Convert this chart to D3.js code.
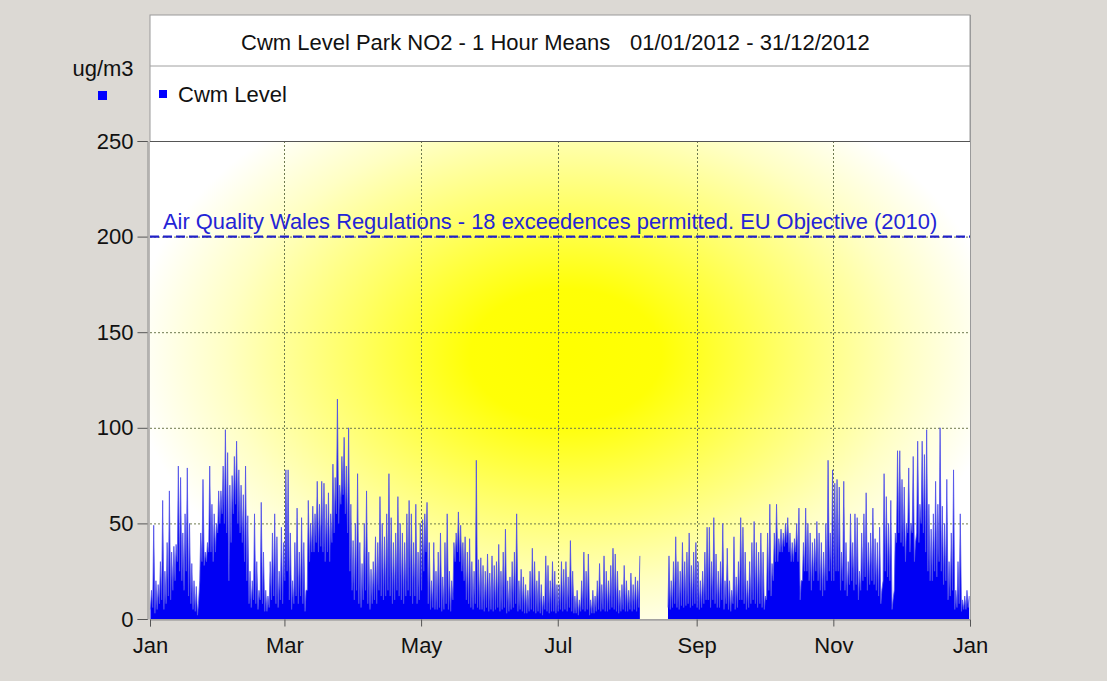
<!DOCTYPE html>
<html>
<head>
<meta charset="utf-8">
<script src="https://cdn.jsdelivr.net/npm/d3@7"></script>
<style>
  html, body { margin: 0; padding: 0; background: #dcd9d4; }
  svg { display: block; font-family: "Liberation Sans", Arial, sans-serif; }
</style>
</head>
<body>
<svg id="chart" width="1107" height="681"></svg>
<script>
// daily peak / daily base NO2 (ug/m3)
const janMax = [15,49,20,18,30,62,25,40,67,35,38,39,80,74,45,55,79,50,29,20,17,8,45,73,35,40,80,60,55,50,67];
const janMin = [5,6,3,5,8,10,5,8,12,10,15,20,30,25,20,15,25,12,8,5,4,2,20,30,28,30,35,35,30,35,45];
const febMax = [67,80,99,87,70,75,85,93,78,70,65,80,54,25,20,55,30,15,61,35,15,12,30,45,55,43,25,48,40];
const febMin = [50,55,50,45,20,40,55,60,50,45,40,30,20,8,6,10,8,5,10,8,4,4,6,10,12,8,6,10,8];
const marMax = [78,78,45,20,40,58,35,53,40,15,62,50,59,55,72,60,72,71,60,66,55,81,74,115,70,85,95,80,100,60,41];
const marMin = [20,25,10,5,8,12,8,12,8,4,15,30,35,35,40,35,38,35,30,35,30,40,45,55,50,60,65,55,45,25,15];
const aprMax = [50,76,40,29,50,67,35,26,30,43,40,64,50,43,55,76,53,40,45,64,50,45,40,55,62,55,40,60,35,50];
const aprMin = [10,15,8,6,10,15,8,5,8,10,8,15,12,10,12,15,12,8,10,15,12,10,8,12,15,12,8,12,8,10];
const mayMax = [52,55,61,40,20,40,25,35,45,22,40,55,25,20,40,45,56,49,40,43,35,42,30,25,83,31,32,28,25,34,24];
const mayMin = [15,25,35,8,5,6,5,5,6,4,5,8,5,4,10,30,35,30,25,20,10,8,6,5,8,6,5,5,4,6,4];
const junMax = [33,28,30,39,25,35,47,20,22,30,35,55,20,26,22,18,15,25,37,30,20,25,18,12,33,28,20,30,25,18];
const junMin = [5,4,5,6,4,5,6,3,4,5,6,8,4,5,4,3,3,4,5,4,3,4,3,2,5,4,3,4,4,3];
const julMax = [18,30,26,30,22,41,25,12,15,10,20,35,25,34,10,15,12,20,29,18,33,25,20,28,37,34,25,15,18,28,20];
const julMin = [4,5,4,5,4,6,4,3,3,2,4,5,4,5,2,3,3,4,5,4,5,4,4,5,6,5,4,3,4,5,4];
const augMax = [15,24,18,22,20,33,null,null,null,null,null,null,null,null,null,null,null,null,33,20,30,43,30,25,40,30,35,45,28,35,40];
const augMin = [4,5,4,5,4,6,null,null,null,null,null,null,null,null,null,null,null,null,6,5,6,8,6,5,7,6,7,8,6,7,8];
const sepMax = [30,20,25,35,48,48,30,53,34,25,30,50,20,37,20,15,43,22,30,53,48,35,20,30,40,51,40,35,45,35];
const sepMin = [6,5,6,8,10,10,6,10,8,6,6,10,5,8,5,4,8,5,6,10,10,8,5,6,8,10,8,6,8,6];
const octMax = [12,45,60,29,45,60,42,47,45,50,53,45,40,42,50,58,20,40,58,50,45,40,42,51,45,40,35,50,83,45,78];
const octMin = [5,10,15,12,20,30,30,35,35,38,40,35,30,30,35,30,10,20,25,25,20,15,20,25,20,15,12,15,20,25,20];
const novMax = [71,73,69,35,72,40,30,55,40,55,53,25,45,55,66,40,45,58,42,40,48,15,76,64,50,62,10,45,88,88];
const novMin = [20,25,25,15,20,15,12,18,20,15,18,10,15,20,22,15,18,20,18,15,12,8,20,25,22,20,5,15,40,45];
const decMax = [73,69,50,79,50,85,40,93,60,93,86,99,60,47,55,72,60,100,59,50,73,30,45,78,15,30,55,10,12,15,12];
const decMin = [40,38,30,45,35,45,30,45,40,50,45,35,25,20,20,25,22,30,25,18,20,10,12,15,5,6,8,4,5,5,6];

const yTicks = [0, 50, 100, 150, 200, 250];
const limitValue = 200;
const limitLabel = 'Air Quality Wales Regulations - 18 exceedences permitted. EU Objective (2010)';
const titleMain = 'Cwm Level Park NO2 - 1 Hour Means';
const titleDates = '01/01/2012 - 31/12/2012';
const seriesName = 'Cwm Level';
const unitLabel = 'ug/m3';

const dayMax = [].concat(janMax, febMax, marMax, aprMax, mayMax, junMax, julMax, augMax, sepMax, octMax, novMax, decMax);
const dayMin = [].concat(janMin, febMin, marMin, aprMin, mayMin, junMin, julMin, augMin, sepMin, octMin, novMin, decMin);

const start = Date.UTC(2012, 0, 1);
const DAY = 86400000;

// each day drawn as a trough then a peak
const points = [];
dayMax.forEach((m, i) => {
  points.push({ t: new Date(start + (i + 0.2) * DAY), v: dayMin[i] });
  points.push({ t: new Date(start + (i + 0.65) * DAY), v: m });
});

const margin = { left: 150, right: 137, top: 141, bottom: 62 };
const W = 1107, H = 681;
const FS = 22;

const svg = d3.select('#chart');

const x = d3.scaleUtc()
  .domain([new Date(start), new Date(Date.UTC(2013, 0, 1))])
  .range([margin.left, W - margin.right]);
const y = d3.scaleLinear()
  .domain([0, 250])
  .range([H - margin.bottom, margin.top]);

const defs = svg.append('defs');
const grad = defs.append('radialGradient')
  .attr('id', 'sun')
  .attr('gradientUnits', 'userSpaceOnUse')
  .attr('cx', 0).attr('cy', 0).attr('r', 1)
  .attr('gradientTransform', 'translate(566,355) scale(435,300)');
[[0, '#ffff00'], [0.22, '#ffff06'], [0.5, '#ffff68'], [0.78, '#ffffc4'], [1, '#ffffff']]
  .forEach(s => grad.append('stop').attr('offset', s[0]).attr('stop-color', s[1]));

// white panel with title and legend
svg.append('rect')
  .attr('x', margin.left).attr('y', 15)
  .attr('width', x.range()[1] - margin.left).attr('height', y(0) - 15)
  .attr('fill', '#fff').attr('stroke', '#9a9a9a');
svg.append('line')
  .attr('x1', margin.left).attr('x2', x.range()[1])
  .attr('y1', 66).attr('y2', 66)
  .attr('stroke', '#a0a0a0');

svg.append('text').attr('x', 241).attr('y', 50)
  .attr('font-size', FS).attr('fill', '#111').text(titleMain);
svg.append('text').attr('x', 630).attr('y', 50)
  .attr('font-size', FS).attr('fill', '#111').text(titleDates);

svg.append('rect').attr('x', 159).attr('y', 90).attr('width', 8).attr('height', 8).attr('fill', '#0000ff');
svg.append('text').attr('x', 178).attr('y', 102)
  .attr('font-size', FS).attr('fill', '#111').text(seriesName);

svg.append('text').attr('x', 103).attr('y', 76).attr('text-anchor', 'middle')
  .attr('font-size', FS).attr('fill', '#111').text(unitLabel);
svg.append('rect').attr('x', 98).attr('y', 91).attr('width', 9).attr('height', 9).attr('fill', '#0000ff');

// plot background
svg.append('rect')
  .attr('x', margin.left).attr('y', margin.top)
  .attr('width', x.range()[1] - margin.left).attr('height', y(0) - margin.top)
  .attr('fill', 'url(#sun)');

// grid
const grid = svg.append('g').attr('stroke', '#6e7a50').attr('stroke-dasharray', '2,2').attr('stroke-width', 1);
grid.selectAll('line.h')
  .data(yTicks.filter(d => d > 0 && d < 250))
  .join('line')
  .attr('x1', margin.left).attr('x2', x.range()[1])
  .attr('y1', d => y(d) + 0.5).attr('y2', d => y(d) + 0.5);
const monthTicks = x.ticks(d3.utcMonth.every(2));
grid.selectAll('line.v')
  .data(monthTicks.slice(1, -1))
  .join('line')
  .attr('x1', d => Math.round(x(d)) + 0.5).attr('x2', d => Math.round(x(d)) + 0.5)
  .attr('y1', margin.top).attr('y2', y(0));

// series
const area = d3.area()
  .defined(d => d.v != null)
  .x(d => x(d.t))
  .y0(y(0))
  .y1(d => y(d.v));
const line = d3.line()
  .defined(d => d.v != null)
  .x(d => x(d.t))
  .y(d => y(d.v));

svg.append('path').datum(points)
  .attr('d', area)
  .attr('fill', '#0000f4');
svg.append('path').datum(points)
  .attr('d', line)
  .attr('fill', 'none')
  .attr('stroke', '#5050e8')
  .attr('stroke-width', 0.8);

// limit line
svg.append('line')
  .attr('x1', margin.left).attr('x2', x.range()[1])
  .attr('y1', y(limitValue)).attr('y2', y(limitValue))
  .attr('stroke', '#2222c8').attr('stroke-width', 2.2)
  .attr('stroke-dasharray', '9,4');
svg.append('text')
  .attr('x', 163).attr('y', y(limitValue) - 8)
  .attr('font-size', 21.9).attr('fill', '#2424d6')
  .text(limitLabel);

// frame
svg.append('line')
  .attr('x1', margin.left).attr('x2', x.range()[1])
  .attr('y1', margin.top + 0.5).attr('y2', margin.top + 0.5)
  .attr('stroke', '#555');
svg.append('line')
  .attr('x1', x.range()[1] + 0.5).attr('x2', x.range()[1] + 0.5)
  .attr('y1', 15).attr('y2', y(0))
  .attr('stroke', '#9a9a9a');

// axes
const yAxis = svg.append('g')
  .attr('transform', 'translate(147.5,0)')
  .call(d3.axisLeft(y).tickValues(yTicks).tickSize(10).tickPadding(4));
yAxis.select('.domain').attr('stroke', '#8a8a8a');
yAxis.selectAll('.tick line').attr('stroke', '#555');
yAxis.selectAll('text').attr('font-size', FS).attr('fill', '#111')
  .attr('font-family', '"Liberation Sans", Arial, sans-serif');

const xAxis = svg.append('g')
  .attr('transform', `translate(0,${y(0) + 0.5})`)
  .call(d3.axisBottom(x).ticks(d3.utcMonth.every(2)).tickFormat(d3.utcFormat('%b')).tickSize(7).tickPadding(11));
xAxis.select('.domain').attr('stroke', '#8a8a8a');
xAxis.selectAll('.tick line').attr('stroke', '#555');
xAxis.selectAll('text').attr('font-size', FS).attr('fill', '#111')
  .attr('font-family', '"Liberation Sans", Arial, sans-serif');
</script>
</body>
</html>
